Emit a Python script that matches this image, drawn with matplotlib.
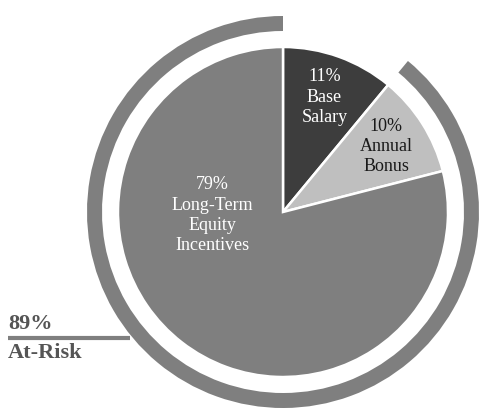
"""
Pay mix pie - 89% at-risk compensation
"""
import numpy as np
import matplotlib.pyplot as plt
from matplotlib.patches import Wedge

# Data
labels = ['Base\nSalary', 'Annual\nBonus', 'Long-Term\nEquity\nIncentives']
shares = [11, 10, 79]
colors = ['#3d3d3d', '#bfbfbf', '#7f7f7f']
text_colors = ['white', '#1a1a1a', 'white']
at_risk = shares[1] + shares[2]

plt.rcParams['font.family'] = ['Liberation Serif', 'DejaVu Serif']

fig = plt.figure(figsize=(4.81, 4.08), dpi=100)
ax = fig.add_axes([0, 0, 1, 1])

cx, cy = 283, 196
R = 165

wedges, _ = ax.pie(shares, colors=colors, startangle=90, counterclock=False,
                   radius=R, center=(cx, cy), frame=True,
                   wedgeprops=dict(edgecolor='white', linewidth=1.8))
ax.set_xlim(0, 481)
ax.set_ylim(0, 408)
ax.set_aspect('equal')
ax.axis('off')

# Outer ring for the at-risk portion
ring = Wedge((cx, cy), 196, 90, 90 + 360 * at_risk / 100, width=15,
             facecolor='#7f7f7f', edgecolor='none')
ax.add_patch(ring)

# Slice labels
for i, (w, lab, s) in enumerate(zip(wedges, labels, shares)):
    mid = np.deg2rad((w.theta1 + w.theta2) / 2)
    if i < 2:
        x = cx + 0.74 * R * np.cos(mid)
        y = cy + 0.74 * R * np.sin(mid)
    else:
        x = cx - 0.43 * R
        y = cy - 0.02 * R
    ax.text(x, y, f'{s}%\n{lab}', ha='center', va='center', fontsize=13,
            color=text_colors[i], linespacing=1.25)

# At-risk callout
ax.plot([8, 130], [70, 70], color='#7f7f7f', lw=3, solid_capstyle='butt')
ax.text(8, 74, f'{at_risk}%', ha='left', va='bottom', fontsize=16,
        fontweight='bold', color='#555555')
ax.text(8, 65, 'At-Risk', ha='left', va='top', fontsize=16,
        fontweight='bold', color='#555555')

plt.savefig('out.png', dpi=100, facecolor='white')
plt.close()
